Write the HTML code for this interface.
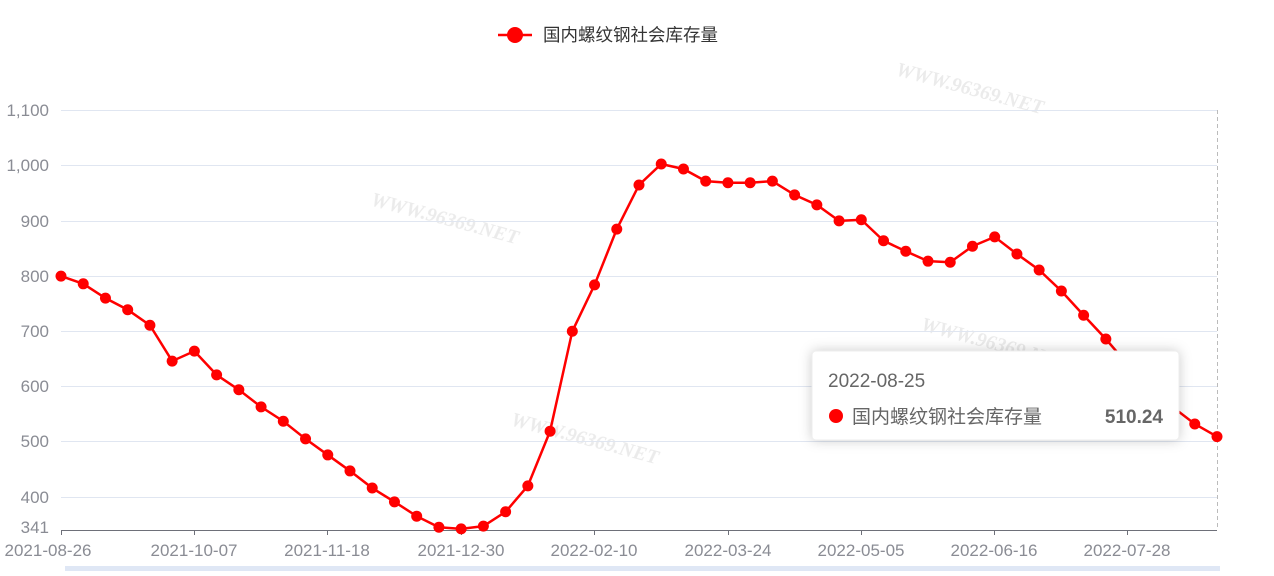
<!DOCTYPE html>
<html><head><meta charset="utf-8"><style>
body{margin:0;background:#fff;width:1274px;height:571px;overflow:hidden;font-family:"Liberation Sans","Noto Sans CJK SC",sans-serif}
</style></head><body>
<svg width="1274" height="571" xmlns="http://www.w3.org/2000/svg" font-family="Liberation Sans, Noto Sans CJK SC, sans-serif">
<g opacity="0.12" fill="#555" font-size="20" font-weight="bold" font-family="Liberation Serif, serif" font-style="italic">
<text x="895" y="75" transform="rotate(15 895 75)">WWW.96369.NET</text>
<text x="370" y="205" transform="rotate(15 370 205)">WWW.96369.NET</text>
<text x="920" y="330" transform="rotate(15 920 330)">WWW.96369.NET</text>
<text x="510" y="425" transform="rotate(15 510 425)">WWW.96369.NET</text>
</g>
<g stroke="#e0e6f1" stroke-width="1">
<line x1="61" x2="1217" y1="110.5" y2="110.5"/><line x1="61" x2="1217" y1="165.5" y2="165.5"/>
<line x1="61" x2="1217" y1="221.5" y2="221.5"/><line x1="61" x2="1217" y1="276.5" y2="276.5"/>
<line x1="61" x2="1217" y1="331.5" y2="331.5"/><line x1="61" x2="1217" y1="386.5" y2="386.5"/>
<line x1="61" x2="1217" y1="441.5" y2="441.5"/><line x1="61" x2="1217" y1="497.5" y2="497.5"/>
</g>
<line x1="1217.5" x2="1217.5" y1="110" y2="530" stroke="#bbb" stroke-dasharray="4,3"/>
<line x1="61" x2="1217" y1="530.5" y2="530.5" stroke="#6e7079"/>
<g stroke="#6e7079"><line x1="61.5" x2="61.5" y1="530" y2="535"/><line x1="194.5" x2="194.5" y1="530" y2="535"/><line x1="327.5" x2="327.5" y1="530" y2="535"/><line x1="461.5" x2="461.5" y1="530" y2="535"/><line x1="594.5" x2="594.5" y1="530" y2="535"/><line x1="728.5" x2="728.5" y1="530" y2="535"/><line x1="861.5" x2="861.5" y1="530" y2="535"/><line x1="994.5" x2="994.5" y1="530" y2="535"/><line x1="1127.5" x2="1127.5" y1="530" y2="535"/></g>
<g fill="#8a8c94" font-size="17" text-anchor="end">
<text x="49" y="116">1,100</text><text x="49" y="171">1,000</text><text x="49" y="227">900</text><text x="49" y="282">800</text>
<text x="49" y="337">700</text><text x="49" y="392">600</text><text x="49" y="447">500</text><text x="49" y="503">400</text><text x="49" y="533">341</text>
</g>
<g fill="#8a8c94" font-size="17" text-anchor="middle">
<text x="48" y="556">2021-08-26</text><text x="194" y="556">2021-10-07</text><text x="327" y="556">2021-11-18</text><text x="461" y="556">2021-12-30</text>
<text x="594" y="556">2022-02-10</text><text x="728" y="556">2022-03-24</text><text x="861" y="556">2022-05-05</text><text x="994" y="556">2022-06-16</text><text x="1127" y="556">2022-07-28</text>
</g>
<rect x="65" y="566" width="1155" height="5" fill="#dfe7f5"/>
<g id="s"></g>
<line x1="498" x2="532" y1="35" y2="35" stroke="#f00" stroke-width="2.5"/><circle cx="515" cy="35" r="8" fill="#f00"/>
<text x="543" y="41" font-size="17.5" fill="#333">国内螺纹钢社会库存量</text>
<g transform="translate(812,351)">
<rect x="0" y="0" width="367" height="89" rx="4" fill="#fff" stroke="#eee" style="filter:drop-shadow(0 0 6px rgba(0,0,0,0.2))"/>
<text x="16" y="36" font-size="19" fill="#666">2022-08-25</text>
<circle cx="24" cy="65" r="7" fill="#f00"/>
<text x="40" y="72" font-size="19" fill="#666">国内螺纹钢社会库存量</text>
<text x="351" y="72" font-size="19" fill="#666" font-weight="bold" text-anchor="end">510.24</text>
</g>
</svg>
<script>
var v=[801,787,761,740,712,647,665,622,595,564,538,506,477,448,417,392,366,346,343,348,374,421,520,701,785,886,966,1004,995,973,970,970,973,948,930,901,903,865,846,828,826,855,872,841,812,774,730,687,640,595,564,533,510.24];
var ns="http://www.w3.org/2000/svg",g=document.getElementById('s'),pts=[];
v.forEach(function(d,i){var x=61+i*1156/52,y=530-(d-341)*0.552;pts.push(x+','+y);});
var p=document.createElementNS(ns,'polyline');p.setAttribute('points',pts.join(' '));p.setAttribute('fill','none');p.setAttribute('stroke','#f00');p.setAttribute('stroke-width','2.5');g.appendChild(p);
pts.forEach(function(s){var a=s.split(','),c=document.createElementNS(ns,'circle');c.setAttribute('cx',a[0]);c.setAttribute('cy',a[1]);c.setAttribute('r','5.5');c.setAttribute('fill','#f00');g.appendChild(c);});
var tt=g.parentNode.lastElementChild;g.parentNode.appendChild(tt);
</script>
</body></html>
